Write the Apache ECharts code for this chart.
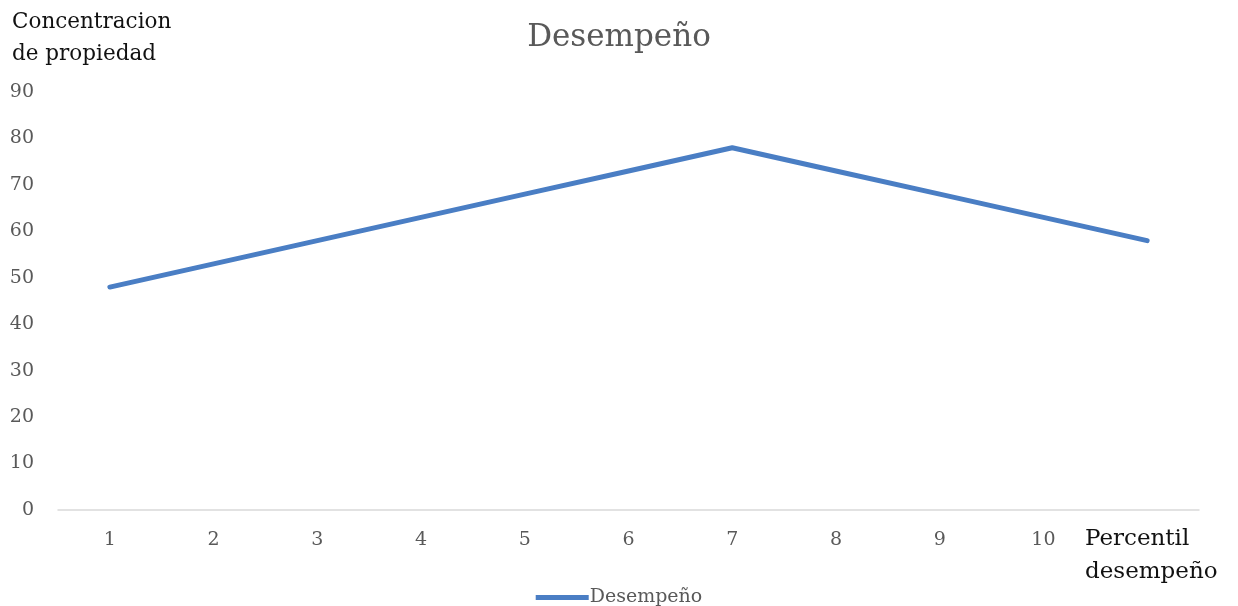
<!DOCTYPE html>
<html>
<head>
<meta charset="utf-8">
<script src="https://cdn.jsdelivr.net/npm/echarts@6/dist/echarts.min.js"></script>
<style>
  html, body { margin: 0; padding: 0; background: #fff; }
  #chart { width: 1238px; height: 606px; }
</style>
</head>
<body>
<div id="chart"></div>
<script>
// Percentile categories (the 11th point sits under the axis name)
const categories = ['1', '2', '3', '4', '5', '6', '7', '8', '9', '10', '11'];
const desempeno = [48, 53, 58, 63, 68, 73, 78, 73, 68, 63, 58];
const yTicks = { min: 0, max: 90, interval: 10 };

const serif = '"DejaVu Serif", "Liberation Serif", serif';
const grey = '#595959';

const chart = echarts.init(document.getElementById('chart'), null, { renderer: 'canvas' });
chart.setOption({
  animation: false,
  title: {
    text: 'Desempeño',
    left: 'center',
    top: 17,
    textStyle: { fontFamily: serif, fontSize: 31, fontWeight: 'normal', color: grey }
  },
  legend: {
    bottom: -6,
    left: 'center',
    itemWidth: 53,
    itemHeight: 5,
    itemGap: 2,
    icon: 'rect',
    textStyle: { fontFamily: serif, fontSize: 19, color: grey, padding: [0, 0, 0, -4] },
    data: ['Desempeño']
  },
  grid: { left: 58, right: 39, top: 92, bottom: 96 },
  xAxis: {
    type: 'category',
    data: categories,
    boundaryGap: true,
    axisLine: { lineStyle: { color: '#d9d9d9', width: 1.5 } },
    axisTick: { show: false },
    axisLabel: {
      margin: 21,
      fontFamily: serif,
      fontSize: 19,
      color: grey,
      formatter: (v, i) => (i === categories.length - 1 ? '' : v)
    }
  },
  yAxis: {
    type: 'value',
    min: yTicks.min,
    max: yTicks.max,
    interval: yTicks.interval,
    splitLine: { show: false },
    axisLine: { show: false },
    axisTick: { show: false },
    axisLabel: { margin: 24, fontFamily: serif, fontSize: 19, color: grey, padding: [4, 0, 0, 0] }
  },
  series: [{
    name: 'Desempeño',
    type: 'line',
    data: desempeno,
    symbol: 'none',
    lineStyle: { color: '#4a7ec4', width: 5, cap: 'round', join: 'round' },
    itemStyle: { color: '#4a7ec4' }
  }],
  graphic: [
    {
      type: 'text',
      left: 12,
      top: 6,
      style: {
        text: 'Concentracion\nde propiedad',
        font: '21.5px ' + serif,
        lineHeight: 32,
        fill: '#111'
      }
    },
    {
      type: 'text',
      left: 1085,
      top: 523,
      style: {
        text: 'Percentil\ndesempeño',
        font: '23px ' + serif,
        lineHeight: 33,
        fill: '#111'
      }
    }
  ]
});
</script>
</body>
</html>
